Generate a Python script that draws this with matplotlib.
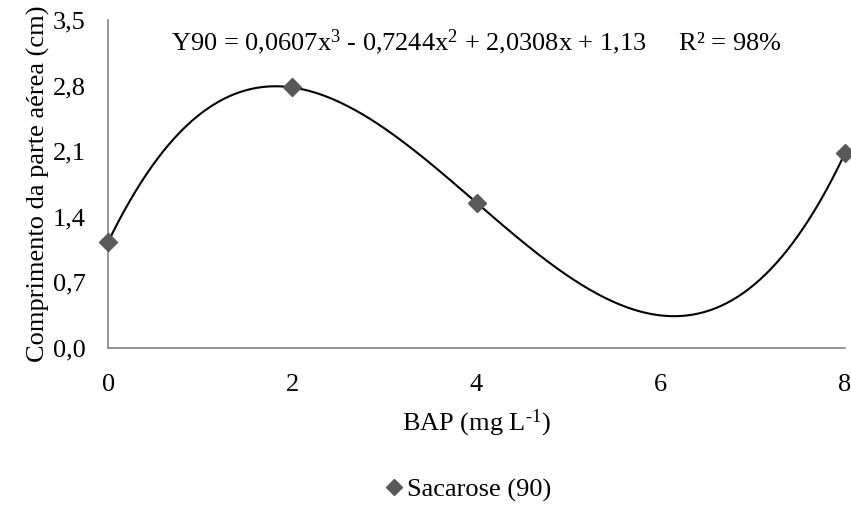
import numpy as np
import matplotlib
matplotlib.use("Agg")
import matplotlib.pyplot as plt

bap = [0, 2, 4, 8]
comprimento = [1.13, 2.78, 1.55, 2.08]
series_label = "Sacarose (90)"
yticks = [0.0, 0.7, 1.4, 2.1, 2.8, 3.5]
xticks = [0, 2, 4, 6, 8]

plt.rcParams['font.family'] = ['Liberation Serif', 'DejaVu Serif']
plt.rcParams['mathtext.fontset'] = 'custom'
plt.rcParams['mathtext.rm'] = 'Liberation Serif'
plt.rcParams['mathtext.it'] = 'Liberation Serif'

fig = plt.figure(figsize=(8.51, 5.07), dpi=100)
ax = fig.add_axes([0.127, 0.3136, 0.866, 0.647])

coef = np.polyfit(bap, comprimento, 3)
xs = np.linspace(0, 8, 400)
ax.plot(xs, np.polyval(coef, xs), color='black', lw=1.5, zorder=2)
ax.plot(bap, comprimento, linestyle='none', marker='D', markersize=9.5,
        color='#595959', label=series_label, zorder=3, clip_on=False)

ax.set_xlim(0, 8)
ax.set_ylim(0, 3.5)
ax.set_xticks(xticks)
ax.set_yticks(yticks)
ax.set_yticklabels([f"{v:.1f}".replace('.', ',') for v in yticks])
ax.tick_params(length=0, labelsize=19)
ax.tick_params(axis='y', pad=16)
ax.tick_params(axis='x', pad=19)
for s in ['top', 'right']:
    ax.spines[s].set_visible(False)
for s in ['left', 'bottom']:
    ax.spines[s].set_color('#8c8c8c')
    ax.spines[s].set_linewidth(1.3)

ax.set_ylabel("Comprimento da parte aérea (cm)", fontsize=19, labelpad=2)
ax.set_xlabel("BAP (mg L$^{\u20101}$)", fontsize=19, labelpad=8)

ax.text(0.5, 0.933, "Y90 = 0,0607x$^3$ - 0,7244x$^2$ + 2,0308x + 1,13     R² = 98%",
        transform=ax.transAxes, fontsize=19, ha='center', va='center')

fig.legend(loc='center', bbox_to_anchor=(0.548, 0.0335), frameon=False,
           fontsize=19, handletextpad=0.0, markerscale=0.9, handlelength=1)

fig.savefig("out.png", dpi=100)
